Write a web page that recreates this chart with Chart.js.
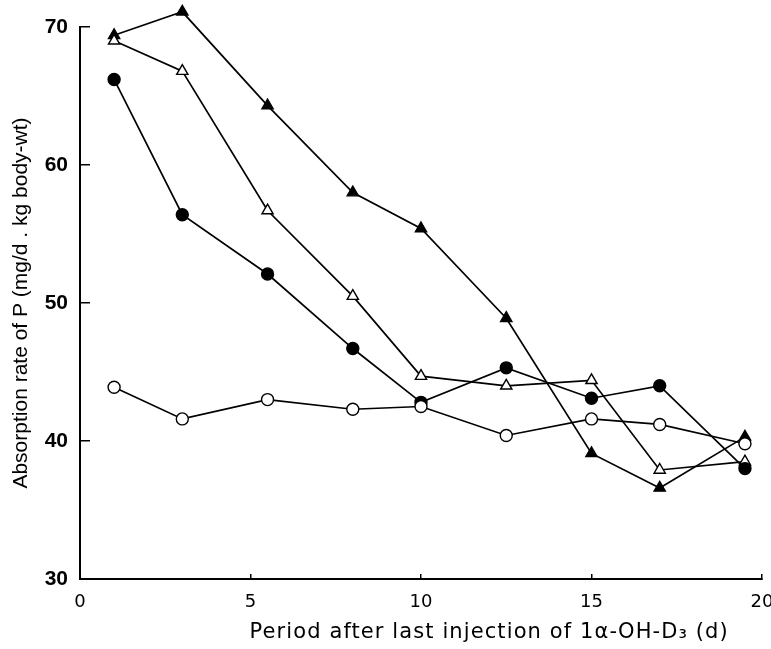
<!DOCTYPE html>
<html>
<head>
<meta charset="utf-8">
<script src="https://cdn.jsdelivr.net/npm/chart.js@4/dist/chart.umd.min.js"></script>
<style>
  html, body { margin: 0; padding: 0; background: #fff; }
  #wrap { width: 771px; height: 649px; }
</style>
</head>
<body>
<div id="wrap"><canvas id="myChart" width="771" height="649"></canvas></div>
<script>
// days after the last injection
const days = [1, 3, 5.5, 8, 10, 12.5, 15, 17, 19.5]

// absorption rate of P for each group
const filledTriangle = [69.4, 71.1, 64.3, 58.0, 55.4, 48.9, 39.1, 36.6, 40.3]
const openTriangle = [69.0, 66.8, 56.7, 50.5, 44.7, 44.0, 44.4, 37.9, 38.5]
const filledCircle = [66.2, 56.4, 52.1, 46.7, 42.8, 45.3, 43.1, 44.0, 38.0]
const openCircle = [43.9, 41.6, 43.0, 42.3, 42.5, 40.4, 41.6, 41.2, 39.8]

const xTicks = [0, 5, 10, 15, 20]
const yTicks = [30, 40, 50, 60, 70]
const xTitle = 'Period after last injection of 1α-OH-D₃ (d)'

const toPoints = (vals) => vals.map((v, i) => ({ x: days[i], y: v }))

const makeSet = (label, vals, style, fill) => ({
  label: label,
  data: toPoints(vals),
  borderColor: '#000',
  borderWidth: 1.7,
  pointStyle: style,
  pointRadius: style == 'triangle' ? 6.5 : 6,
  pointBorderWidth: 1.4,
  pointBackgroundColor: fill,
  pointBorderColor: '#000',
  tension: 0,
  clip: false
})

// let markers just above the top of the axis still be drawn (the 71 point)
const roomAbove = {
  id: 'roomAbove',
  beforeDatasetsDraw(chart) { chart.chartArea.top -= 25 },
  afterDatasetsDraw(chart) { chart.chartArea.top += 25 }
}

// x title sits right of centre in the original, so draw it against the x scale
const xTitlePlugin = {
  id: 'xTitlePlugin',
  afterDraw(chart) {
    const c = chart.ctx
    const sx = chart.scales.x
    c.save()
    c.fillStyle = '#000'
    c.font = "21px 'DejaVu Sans'"
    c.letterSpacing = '1.1px'
    c.textAlign = 'center'
    c.textBaseline = 'alphabetic'
    c.fillText(xTitle, sx.getPixelForValue(12), 638)
    c.restore()
  }
}

const ctx = document.getElementById('myChart')
let chart = new Chart(ctx, {
  type: 'line',
  data: {
    datasets: [
      makeSet('open circle', openCircle, 'circle', '#fff'),
      makeSet('filled circle', filledCircle, 'circle', '#000'),
      makeSet('open triangle', openTriangle, 'triangle', '#fff'),
      makeSet('filled triangle', filledTriangle, 'triangle', '#000')
    ]
  },
  plugins: [roomAbove, xTitlePlugin],
  options: {
    responsive: false,
    animation: false,
    layout: { padding: { top: 27, right: 9, left: 0, bottom: 0 } },
    plugins: { legend: { display: false }, tooltip: { enabled: false } },
    scales: {
      x: {
        type: 'linear',
        min: 0,
        max: 20,
        afterBuildTicks: (s) => { s.ticks = xTicks.map(v => ({ value: v })) },
        afterFit: (s) => { s.height = 70; s.paddingLeft = 0; s.paddingRight = 0 },
        grid: { drawOnChartArea: false, drawTicks: true, tickLength: -5, color: '#000', lineWidth: 1.5 },
        border: { display: true, color: '#000', width: 2 },
        ticks: {
          color: '#000',
          padding: 18,
          maxRotation: 0,
          font: { family: "'DejaVu Sans'", size: 18 }
        }
      },
      y: {
        type: 'linear',
        min: 30,
        max: 70,
        afterBuildTicks: (s) => { s.ticks = yTicks.map(v => ({ value: v })) },
        afterFit: (s) => { s.width = 80; s.paddingTop = 0; s.paddingBottom = 0 },
        grid: { drawOnChartArea: false, drawTicks: true, tickLength: -10, color: '#000', lineWidth: 1.5 },
        border: { display: true, color: '#000', width: 2 },
        ticks: {
          color: '#000',
          padding: 22,
          font: { family: "'Liberation Sans', Arial", size: 21, weight: 'bold' }
        },
        title: {
          display: true,
          text: 'Absorption rate of P (mg/d . kg body-wt)',
          color: '#000',
          padding: { top: 9, bottom: 0 },
          font: { family: "'Liberation Sans', Arial", size: 21 }
        }
      }
    }
  }
})
</script>
</body>
</html>
